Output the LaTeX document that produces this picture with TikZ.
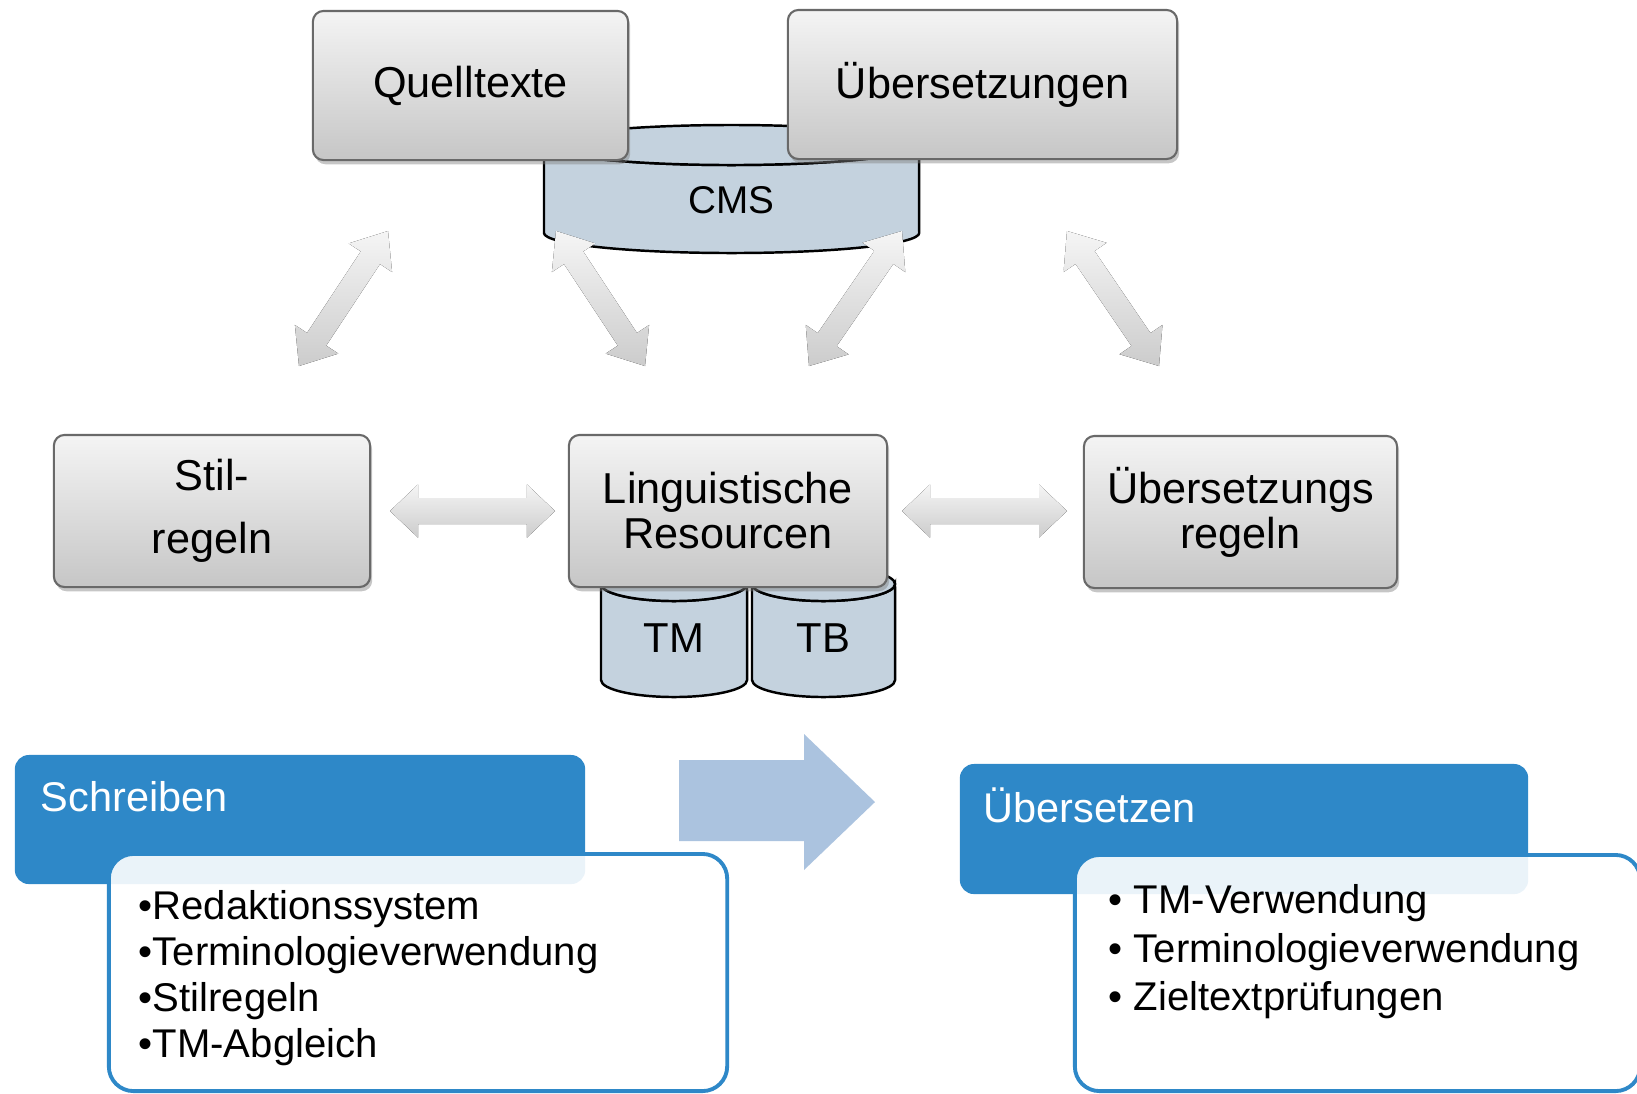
\documentclass[tikz,border=0pt]{standalone}
\usepackage{fontspec}
\setmainfont{Liberation Sans}
\usepackage{tikz}
\usetikzlibrary{calc, shadows}

\definecolor{boxtop}{RGB}{244,244,244}
\definecolor{boxbot}{RGB}{198,198,198}
\definecolor{boxline}{RGB}{105,105,105}
\definecolor{dbfill}{RGB}{196,210,222}
\definecolor{arrtop}{RGB}{245,245,245}
\definecolor{arrbot}{RGB}{204,204,204}
\definecolor{stepblue}{RGB}{46,136,200}
\definecolor{flowblue}{RGB}{171,195,223}

\tikzset{
    graybox/.style={rectangle, rounded corners=3pt, draw=boxline, line width=0.6pt,
        top color=boxtop, bottom color=boxbot,
        drop shadow={shadow xshift=0.6pt, shadow yshift=-1.2pt, opacity=0.45},
        align=center, inner sep=0pt, font=\fontsize{12.3}{12.8}\selectfont},
    dbshape/.style={draw=black, line width=0.7pt, fill=dbfill},
    dbtext/.style={inner sep=0pt, font=\fontsize{11.9}{14}\selectfont},
    fatshade/.style={top color=arrtop, bottom color=arrbot},
    headbox/.style={rectangle, rounded corners=4pt, fill=stepblue, inner sep=0pt},
    headtext/.style={inner sep=0pt, text=white, font=\fontsize{11.8}{14}\selectfont},
    listbox/.style={rectangle, rounded corners=7pt, draw=stepblue, line width=1.1pt,
        fill=white, fill opacity=0.9, inner sep=0pt},
    listtext/.style={align=left, inner sep=0pt}
}

% double headed fat arrow: head length, shaft half width, head half width, from, to
\newcommand{\fatarrow}[5]{
    \fill[fatshade] (#4) -- ($(#4)!#1!(#5)!#3!90:(#5)$) -- ($(#4)!#1!(#5)!#2!90:(#5)$)
        -- ($(#5)!#1!(#4)!#2!-90:(#4)$) -- ($(#5)!#1!(#4)!#3!-90:(#4)$) -- (#5)
        -- ($(#5)!#1!(#4)!#3!90:(#4)$) -- ($(#5)!#1!(#4)!#2!90:(#4)$)
        -- ($(#4)!#1!(#5)!#2!-90:(#5)$) -- ($(#4)!#1!(#5)!#3!-90:(#5)$) -- cycle;
}

\begin{document}
\begin{tikzpicture}[x=0.01cm, y=-0.01cm]
    \useasboundingbox (0,0) rectangle (1637,1093);

    % CMS drum behind the two top boxes
    \draw[dbshape] (544,145) -- (544,233) arc[start angle=180, end angle=360, x radius=1.875cm, y radius=0.2cm]
        -- (919,145) arc[start angle=0, end angle=-180, x radius=1.875cm, y radius=0.2cm] -- cycle;
    \draw[dbshape] (731.5,145) ellipse [x radius=1.875cm, y radius=0.2cm];
    \node[dbtext, font=\fontsize{11}{13}\selectfont] (cms) at (731.5,200) {CMS};

    \node[graybox, minimum width=3.15cm, minimum height=1.49cm] (quell) at (470.5,85.5) {Quelltexte};
    \node[graybox, minimum width=3.89cm, minimum height=1.49cm] (uebers) at (982.5,84.5) {Übersetzungen};

    % TM and TB drums behind the middle box
    \draw[dbshape] (601,584) -- (601,680) arc[start angle=180, end angle=360, x radius=0.73cm, y radius=0.17cm]
        -- (747,584) arc[start angle=0, end angle=-180, x radius=0.73cm, y radius=0.17cm] -- cycle;
    \draw[dbshape] (674,584) ellipse [x radius=0.73cm, y radius=0.17cm];
    \draw[dbshape] (752,584) -- (752,680) arc[start angle=180, end angle=360, x radius=0.715cm, y radius=0.17cm]
        -- (895,584) arc[start angle=0, end angle=-180, x radius=0.715cm, y radius=0.17cm] -- cycle;
    \draw[dbshape] (823.5,584) ellipse [x radius=0.715cm, y radius=0.17cm];
    \node[dbtext] (tm) at (674,638) {TM};
    \node[dbtext] (tb) at (823.5,638) {TB};

    \node[graybox, minimum width=3.16cm, minimum height=1.52cm] (stil) at (212,511) {Stil-\\[5.1pt]regeln};
    \node[graybox, minimum width=3.18cm, minimum height=1.52cm] (ling) at (728,511) {Linguistische\\Resourcen};
    \node[graybox, minimum width=3.13cm, minimum height=1.52cm] (uregeln) at (1240.5,512) {Übersetzungs\\regeln};

    % fat arrows
    \coordinate (a1) at (388,231);  \coordinate (b1) at (299,366);
    \coordinate (a2) at (556,231);  \coordinate (b2) at (645,366);
    \coordinate (a3) at (902,231);  \coordinate (b3) at (809,366);
    \coordinate (a4) at (1067,231); \coordinate (b4) at (1159,366);
    \coordinate (h1) at (390,511);  \coordinate (h2) at (555,511);
    \coordinate (h3) at (902,511);  \coordinate (h4) at (1067,511);
    \fatarrow{0.32cm}{0.115cm}{0.26cm}{a1}{b1}
    \fatarrow{0.32cm}{0.115cm}{0.26cm}{a2}{b2}
    \fatarrow{0.32cm}{0.115cm}{0.26cm}{a3}{b3}
    \fatarrow{0.32cm}{0.115cm}{0.26cm}{a4}{b4}
    \fatarrow{0.28cm}{0.13cm}{0.265cm}{h1}{h2}
    \fatarrow{0.28cm}{0.13cm}{0.265cm}{h3}{h4}

    % Schreiben
    \node[headbox, minimum width=5.70cm, minimum height=1.29cm] (schreibkopf) at (300,819.5) {};
    \node[headtext, anchor=west] (schreiben) at (40,797) {Schreiben};
    \node[listbox, minimum width=6.18cm, minimum height=2.37cm] (schreibbox) at (418,972.5) {};
    \node[listtext, anchor=west, font=\fontsize{11.4}{13.1}\selectfont] (schreibliste) at (138,978)
        {•Redaktionssystem\\•Terminologieverwendung\\•Stilregeln\\•TM-Abgleich};

    \fill[flowblue] (679,760) -- (804,760) -- (804,734) -- (875,802) -- (804,870) -- (804,841) -- (679,841) -- cycle;

    % Uebersetzen
    \node[headbox, minimum width=5.68cm, minimum height=1.30cm] (uebkopf) at (1244,829) {};
    \node[headtext, anchor=west] (uebersetzen) at (983,805) {Übersetzen};
    \node[listbox, minimum width=5.65cm, minimum height=2.36cm] (uebbox) at (1357.5,973) {};
    \node[listtext, anchor=west, font=\fontsize{11.4}{13.8}\selectfont] (uebliste) at (1108,952)
        {• TM-Verwendung\\• Terminologieverwendung\\• Zieltextprüfungen};
\end{tikzpicture}
\end{document}
